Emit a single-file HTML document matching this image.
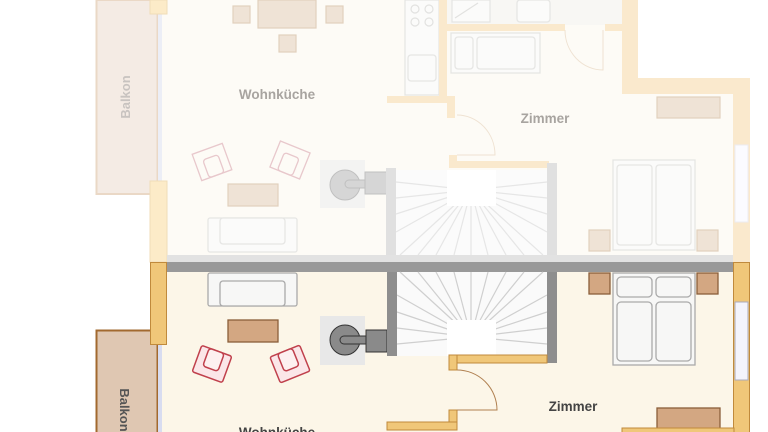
<!DOCTYPE html>
<html><head><meta charset="utf-8"><style>
html,body{margin:0;padding:0;background:#fff;width:768px;height:432px;overflow:hidden}
svg{display:block}
text{font-family:"Liberation Sans",sans-serif;font-weight:bold}
</style></head><body>
<svg width="768" height="432" viewBox="0 0 768 432" xmlns="http://www.w3.org/2000/svg">
<rect x="160" y="0" width="465" height="262" fill="#fdfbf6"/>
<rect x="625" y="90" width="110" height="172" fill="#fdfbf6"/>
<rect x="446" y="0" width="176" height="25" fill="#f8f7f4"/>
<rect x="96.5" y="0" width="61" height="194" fill="#f4ebe4" stroke="#ead8c6" stroke-width="2"/>
<text x="0" y="0" transform="translate(130,97) rotate(-90)" text-anchor="middle" font-size="13" fill="#c8c3c0">Balkon</text>
<rect x="158" y="14" width="4" height="168" fill="#eceef6"/>
<rect x="150" y="0" width="17" height="14" fill="#fcebc8" stroke="#f0dcb8"/>
<rect x="150" y="181" width="17" height="81" fill="#fcebc8" stroke="#f0dcb8"/>
<g fill="#efe3d6" stroke="#e2d0bd" stroke-width="1.2">
<rect x="258" y="0" width="58" height="28"/>
<rect x="233" y="6" width="17" height="17"/>
<rect x="326" y="6" width="17" height="17"/>
<rect x="279" y="35" width="17" height="17"/>
<rect x="228" y="184" width="50" height="22"/>
<rect x="657" y="97" width="63" height="21"/>
<rect x="589" y="230" width="21" height="21"/>
<rect x="697" y="230" width="21" height="21"/>
</g>
<text x="277" y="99" text-anchor="middle" font-size="13.5" fill="#a8a4a0">Wohnküche</text>
<text x="545" y="123" text-anchor="middle" font-size="13.5" fill="#a8a4a0">Zimmer</text>
<g fill="none" stroke="#e8c8cc" stroke-width="1.3">
<g transform="translate(212,162) rotate(-20)"><rect x="-16" y="-14" width="32" height="28"/><rect x="-8" y="-5" width="16" height="19" rx="3"/></g>
<g transform="translate(290,160) rotate(22)"><rect x="-16" y="-14" width="32" height="28"/><rect x="-8" y="-5" width="16" height="19" rx="3"/></g>
</g>
<g fill="#fbfbfa" stroke="#e6e6e4" stroke-width="1.3">
<rect x="208" y="218" width="89" height="34" rx="2"/><rect x="220" y="218" width="65" height="26" rx="3"/>
<rect x="405" y="0" width="34" height="95"/>
<rect x="451" y="33" width="89" height="40"/><rect x="455" y="37" width="18" height="32" rx="3"/><rect x="477" y="37" width="58" height="32" rx="3"/>
<rect x="452" y="0" width="38" height="22"/><rect x="517" y="0" width="33" height="22" rx="3"/>
<rect x="408" y="55" width="28" height="26" rx="3"/>
<rect x="613" y="160" width="82" height="90"/><rect x="617" y="165" width="35" height="80" rx="3"/><rect x="656" y="165" width="35" height="80" rx="3"/>
</g>
<g fill="none" stroke="#e2e2e0" stroke-width="1.2"><circle cx="415" cy="9" r="4"/><circle cx="429" cy="9" r="4"/><circle cx="415" cy="22" r="4"/><circle cx="429" cy="22" r="4"/><line x1="455" y1="18" x2="478" y2="3"/></g>
<rect x="320" y="160" width="45" height="48" fill="#f3f3f2"/>
<circle cx="345" cy="185" r="15" fill="#d6d6d6" stroke="#c0c0c0"/>
<rect x="345" y="180" width="24" height="8" rx="4" fill="#d6d6d6" stroke="#c0c0c0"/>
<rect x="365" y="172" width="22" height="22" fill="#d6d6d6" stroke="#c0c0c0"/>
<g fill="#fae9cd">
<rect x="439" y="0" width="8" height="100"/>
<rect x="446" y="24" width="119" height="7"/>
<rect x="605" y="24" width="20" height="7"/>
<rect x="622" y="0" width="16" height="94"/>
<rect x="622" y="78" width="128" height="16"/>
<rect x="733" y="78" width="17" height="184"/>
<rect x="387" y="96" width="68" height="7"/>
<rect x="447" y="96" width="8" height="22"/>
<rect x="449" y="155" width="8" height="13"/>
<rect x="449" y="161" width="100" height="7"/>
</g>
<rect x="735" y="145" width="13" height="77" fill="#fbfbff" stroke="#ececf2"/>
<g fill="none" stroke="#efe2d2" stroke-width="1"><path d="M565 30 A38 40 0 0 0 603 70 L603 30"/><path d="M457 115 A38 40 0 0 1 495 155 L457 155"/></g>
<rect x="396" y="170" width="151" height="85" fill="#fbfbfb"/>
<g stroke="#e6e6e6" stroke-width="1.2">
<line x1="471" y1="190" x2="400" y2="255"/><line x1="471" y1="190" x2="418" y2="255"/><line x1="471" y1="190" x2="436" y2="255"/><line x1="471" y1="190" x2="454" y2="255"/><line x1="471" y1="190" x2="471" y2="255"/><line x1="471" y1="190" x2="488" y2="255"/><line x1="471" y1="190" x2="506" y2="255"/><line x1="471" y1="190" x2="524" y2="255"/><line x1="471" y1="190" x2="543" y2="255"/>
<line x1="471" y1="190" x2="396" y2="182"/><line x1="471" y1="190" x2="396" y2="198"/><line x1="471" y1="190" x2="396" y2="214"/><line x1="471" y1="190" x2="396" y2="232"/>
<line x1="471" y1="190" x2="547" y2="182"/><line x1="471" y1="190" x2="547" y2="198"/><line x1="471" y1="190" x2="547" y2="214"/><line x1="471" y1="190" x2="547" y2="232"/>
</g>
<rect x="447" y="170" width="49" height="36" fill="#fff"/>
<rect x="386" y="168" width="10" height="94" fill="#e0e0e0"/>
<rect x="547" y="163" width="10" height="99" fill="#e0e0e0"/>
<rect x="167" y="255" width="566" height="7" fill="#e2e2e2"/>

<rect x="162" y="272" width="571" height="160" fill="#fcf6e8"/>
<rect x="167" y="262" width="566" height="10" fill="#999"/>
<rect x="96.5" y="330.5" width="61" height="103" fill="#dfc7b2" stroke="#a2692f" stroke-width="2"/>
<text x="0" y="0" transform="translate(120,410) rotate(90)" text-anchor="middle" font-size="13" fill="#555">Balkon</text>
<rect x="158" y="345" width="4" height="87" fill="#d8dcf0"/>
<rect x="150.5" y="262.5" width="16" height="82" fill="#f0c779" stroke="#c08a3c"/>
<g fill="#d3a782" stroke="#8a5e3a" stroke-width="1.3">
<rect x="228" y="320" width="50" height="22"/>
<rect x="589" y="273" width="21" height="21"/>
<rect x="697" y="273" width="21" height="21"/>
<rect x="657" y="408" width="63" height="22"/>
</g>
<g fill="#f7f7f6" stroke="#aaa" stroke-width="1.3">
<rect x="208" y="273" width="89" height="33" rx="2"/><rect x="220" y="281" width="65" height="25" rx="3"/>
<rect x="613" y="273" width="82" height="92"/><rect x="617" y="277" width="35" height="20" rx="4"/><rect x="656" y="277" width="35" height="20" rx="4"/>
<rect x="617" y="302" width="35" height="59" rx="4"/><rect x="656" y="302" width="35" height="59" rx="4"/>
</g>
<g fill="#fbe6e8" stroke="#c0404c" stroke-width="1.5">
<g transform="translate(212,364) rotate(20)"><rect x="-16" y="-14" width="32" height="28" rx="2"/><rect x="-8" y="-14" width="16" height="19" rx="3" fill="#fdf0f0"/></g>
<g transform="translate(290,364) rotate(-22)"><rect x="-16" y="-14" width="32" height="28" rx="2"/><rect x="-8" y="-14" width="16" height="19" rx="3" fill="#fdf0f0"/></g>
</g>
<rect x="320" y="316" width="45" height="49" fill="#e8e8e8"/>
<circle cx="345" cy="340" r="15" fill="#8a8a8a" stroke="#333"/>
<rect x="340" y="336" width="30" height="8" rx="4" fill="#8a8a8a" stroke="#333"/>
<rect x="366" y="330" width="21" height="22" fill="#8a8a8a" stroke="#333"/>
<rect x="397" y="272" width="150" height="84" fill="#fafafa"/>
<g stroke="#cfcfcf" stroke-width="1.2">
<line x1="471" y1="337" x2="400" y2="272"/><line x1="471" y1="337" x2="418" y2="272"/><line x1="471" y1="337" x2="436" y2="272"/><line x1="471" y1="337" x2="454" y2="272"/><line x1="471" y1="337" x2="471" y2="272"/><line x1="471" y1="337" x2="488" y2="272"/><line x1="471" y1="337" x2="506" y2="272"/><line x1="471" y1="337" x2="524" y2="272"/><line x1="471" y1="337" x2="543" y2="272"/>
<line x1="471" y1="337" x2="397" y2="295"/><line x1="471" y1="337" x2="397" y2="312"/><line x1="471" y1="337" x2="397" y2="328"/><line x1="471" y1="337" x2="397" y2="344"/>
<line x1="471" y1="337" x2="547" y2="295"/><line x1="471" y1="337" x2="547" y2="312"/><line x1="471" y1="337" x2="547" y2="328"/><line x1="471" y1="337" x2="547" y2="344"/>
</g>
<rect x="447" y="320" width="49" height="36" fill="#fff"/>
<rect x="387" y="272" width="10" height="84" fill="#8e8e8e"/>
<rect x="547" y="272" width="10" height="91" fill="#8e8e8e"/>
<g fill="#f0c779" stroke="#c08a3c" stroke-width="1">
<rect x="449" y="355" width="98" height="8"/>
<rect x="449" y="355" width="8" height="15"/>
<rect x="449" y="410" width="8" height="20"/>
<rect x="387" y="422" width="70" height="8"/>
<rect x="733.5" y="262.5" width="16" height="170"/>
<rect x="622" y="428" width="112" height="6"/>
</g>
<rect x="735" y="302" width="13" height="78" fill="#f4f4fc" stroke="#aab"/>
<path d="M457 370 A40 40 0 0 1 497 410 L457 410" fill="none" stroke="#b08050"/>
<text x="573" y="411" text-anchor="middle" font-size="13.5" fill="#444">Zimmer</text>
<text x="277" y="437" text-anchor="middle" font-size="13.5" fill="#444">Wohnküche</text>
</svg>
</body></html>
